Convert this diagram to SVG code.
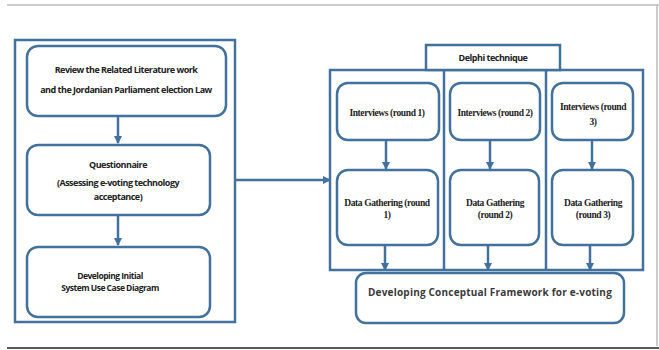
<svg xmlns="http://www.w3.org/2000/svg" width="659" height="350" viewBox="0 0 659 350">
<defs>
<marker id="ah" markerWidth="8" markerHeight="8" refX="7" refY="4" orient="auto" markerUnits="userSpaceOnUse">
<path d="M0,0 L8,4 L0,8 Z" fill="#41719c"/>
</marker>
<style>
.frame{fill:#fff;stroke:#41719c;stroke-width:2.5}
.box{fill:#fff;stroke:#41719c;stroke-width:2.5}
.con{stroke:#41719c;stroke-width:2.5;fill:none;marker-end:url(#ah)}
.ts{font-family:"Open Sans","Liberation Sans",sans-serif;font-weight:bold;font-size:9px;fill:#222;text-anchor:middle;letter-spacing:-0.5px}
.tr{font-family:"Liberation Serif",serif;font-weight:bold;font-size:9.5px;fill:#222;text-anchor:middle;letter-spacing:-0.4px}
.tg{font-family:"Open Sans","Liberation Sans",sans-serif;font-weight:bold;font-size:10px;fill:#3a3a3a;text-anchor:middle;letter-spacing:0.2px}
</style>
</defs>
<rect width="659" height="350" fill="#fff"/>
<line x1="7" y1="5" x2="659" y2="5" stroke="#bbb" stroke-width="1.5"/>
<line x1="657" y1="5" x2="657" y2="346" stroke="#bbb" stroke-width="1.5"/>
<line x1="7" y1="348" x2="659" y2="348" stroke="#222" stroke-width="1.5"/>

<g id="leftFrame"><rect class="frame" x="15" y="40" width="220" height="282"/></g>
<g id="rightFrame">
<rect class="frame" x="330" y="70" width="313" height="200"/>
<line x1="444" y1="70" x2="444" y2="270" stroke="#41719c" stroke-width="2.5"/>
<line x1="546" y1="70" x2="546" y2="270" stroke="#41719c" stroke-width="2.5"/>
</g>
<g id="delphi"><rect class="frame" x="426" y="45" width="134" height="25"/><text class="ts" x="493" y="61">Delphi technique</text></g>

<g id="review"><rect class="box" x="27" y="46" width="199" height="70" rx="11"/>
<text class="ts" x="126" y="73">Review the Related Literature work</text>
<text class="ts" x="126" y="93">and the Jordanian Parliament election Law</text></g>
<g id="questionnaire"><rect class="box" x="27" y="145" width="183" height="70" rx="11"/>
<text class="ts" x="118" y="168">Questionnaire</text>
<text class="ts" x="118" y="186">(Assessing e-voting technology</text>
<text class="ts" x="118" y="200">acceptance)</text></g>
<g id="usecase"><rect class="box" x="27" y="247" width="183" height="70" rx="11"/>
<text class="ts" x="110" y="279" style="font-size:8.5px">Developing Initial</text>
<text class="ts" x="110" y="291" style="font-size:8.5px">System Use Case Diagram</text></g>

<g id="int1"><rect class="box" x="337" y="83" width="102" height="57" rx="11"/><text class="tr" x="387" y="116">Interviews (round 1)</text></g>
<g id="int2"><rect class="box" x="450" y="83" width="90" height="57" rx="11"/><text class="tr" x="495" y="116">Interviews (round 2)</text></g>
<g id="int3"><rect class="box" x="552" y="83" width="81" height="57" rx="11"/><text class="tr" x="593" y="110">Interviews (round</text><text class="tr" x="593" y="125">3)</text></g>

<g id="data1"><rect class="box" x="337" y="170" width="101" height="75" rx="11"/><text class="tr" x="387" y="206">Data Gathering (round</text><text class="tr" x="387" y="218">1)</text></g>
<g id="data2"><rect class="box" x="450" y="170" width="89" height="75" rx="11"/><text class="tr" x="495" y="206">Data Gathering</text><text class="tr" x="495" y="218">(round 2)</text></g>
<g id="data3"><rect class="box" x="552" y="170" width="81" height="75" rx="11"/><text class="tr" x="593" y="206">Data Gathering</text><text class="tr" x="593" y="218">(round 3)</text></g>

<g id="framework"><rect class="box" x="356" y="273" width="268" height="50" rx="10"/><text class="tg" x="490" y="296">Developing Conceptual  Framework  for e-voting</text></g>

<g id="connectors">
<line class="con" x1="118" y1="117" x2="118" y2="143"/>
<line class="con" x1="118" y1="216" x2="118" y2="245"/>
<line class="con" x1="236" y1="180" x2="330" y2="180"/>
<line class="con" x1="386" y1="141" x2="386" y2="169"/>
<line class="con" x1="490" y1="141" x2="490" y2="169"/>
<line class="con" x1="592" y1="141" x2="592" y2="169"/>
<line class="con" x1="385" y1="246" x2="385" y2="270"/>
<line class="con" x1="488" y1="246" x2="488" y2="270"/>
<line class="con" x1="590" y1="246" x2="590" y2="270"/>
</g>
</svg>
